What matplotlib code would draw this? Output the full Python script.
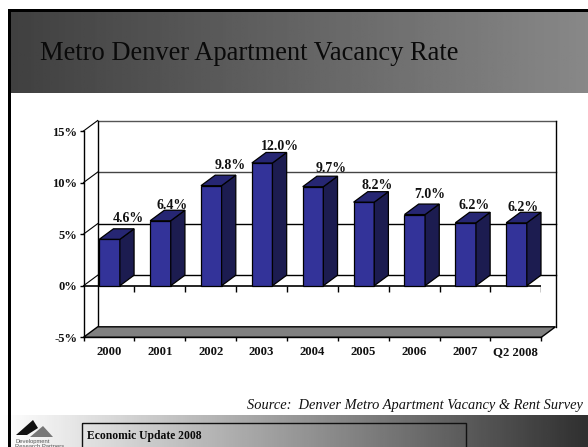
import numpy as np
import matplotlib
matplotlib.use("Agg")
import matplotlib.pyplot as plt
from matplotlib.patches import Polygon, Rectangle

plt.rcParams['font.family'] = ['Liberation Serif', 'DejaVu Serif']

categories = ['2000', '2001', '2002', '2003', '2004', '2005', '2006', '2007', 'Q2 2008']
bar_heights = [4.5, 6.3, 9.7, 11.9, 9.6, 8.1, 6.9, 6.1, 6.1]
bar_labels = ['4.6%', '6.4%', '9.8%', '12.0%', '9.7%', '8.2%', '7.0%', '6.2%', '6.2%']
y_ticks = [-5, 0, 5, 10, 15]
y_tick_labels = ['-5%', '0%', '5%', '10%', '15%']

W, H = 588, 447
# where each value label sits relative to the bar's top left corner, in pixels
label_dx = [29, 22, 29, 28, 28, 24, 25, 19, 17]
label_dy = [21, 15, 20, 16, 18, 17, 20, 17, 15]

fig = plt.figure(figsize=(W / 100, H / 100), dpi=100)

# slide background in pixel coordinates
bg = fig.add_axes([0, 0, 1, 1])
bg.set_xlim(0, W)
bg.set_ylim(H, 0)
bg.axis('off')
head = np.linspace(0x40, 0x88, 256).reshape(1, -1)
bg.imshow(head, extent=(10, W, 93, 11), cmap='gray', vmin=0, vmax=255, aspect='auto')
foot = np.interp(np.linspace(0, W, 256), [0, 30, W], [255, 245, 0x30]).reshape(1, -1)
bg.imshow(foot, extent=(0, W, H, 415), cmap='gray', vmin=0, vmax=255, aspect='auto')
bg.set_xlim(0, W)
bg.set_ylim(H, 0)
bg.add_patch(Rectangle((8, 9), W - 8, 2.6, color='black', lw=0))
bg.add_patch(Rectangle((8, 9), 2.8, H - 9, color='black', lw=0))
bg.add_patch(Rectangle((82, 423), 384, 30, fill=False, ec='#111111', lw=1))
bg.text(40, 54, 'Metro Denver Apartment Vacancy Rate', fontsize=19.1, color='#0a0a0a',
        ha='left', va='center')
bg.text(583, 406, 'Source:  Denver Metro Apartment Vacancy & Rent Survey', fontsize=10.4,
        style='italic', ha='right', va='center', color='#111111')
bg.text(87, 436, 'Economic Update 2008', fontsize=8.4, weight='bold', ha='left', va='center',
        color='#0a0a0a')
# logo
bg.add_patch(Polygon([[16, 435], [33, 420], [38, 428], [27, 435]], color='#111111', lw=0))
bg.add_patch(Polygon([[30, 437], [43, 426], [53, 437]], color='#777777', lw=0))
bg.text(15, 441, 'Development', fontsize=4.2, color='#555555', ha='left', va='center',
        family='Liberation Sans')
bg.text(15, 446, 'Research Partners', fontsize=4.2, color='#555555', ha='left', va='center',
        family='Liberation Sans')

# chart axes sit on the front plane of the fake 3d box
x0, x1 = 83.5, 541.3
y_top, y_bot = 131.0, 337.3
ax = fig.add_axes([x0 / W, 1 - y_bot / H, (x1 - x0) / W, (y_bot - y_top) / H])
ax.patch.set_alpha(0)
ax.set_xlim(0, len(categories))
ax.set_ylim(-5, 15)

DX = 14.2 / ((x1 - x0) / len(categories))
DY = 10.5 / ((y_bot - y_top) / 20)

# back wall grid and box edges
for v, c in zip(y_ticks[1:], ['black', 'black', '#444444', '#555555']):
    ax.plot([DX, len(categories) + DX], [v + DY, v + DY], color=c, lw=1, clip_on=False, zorder=1)
    ax.plot([0, DX], [v, v + DY], color='black', lw=0.8, clip_on=False, zorder=1)
ax.plot([DX, DX], [-5 + DY, 15 + DY], color='black', lw=1, clip_on=False, zorder=1)
ax.plot([len(categories) + DX] * 2, [-5 + DY, 15 + DY], color='black', lw=1, clip_on=False, zorder=1)
n = len(categories)
ax.add_patch(Polygon([[0, -5], [DX, -5 + DY], [n + DX, -5 + DY], [n, -5]], fc='#808080',
                     ec='black', lw=1, clip_on=False, zorder=1.5))
# floor at zero, white with the front edge on top
ax.plot([0, n], [0, 0], color='black', lw=1.2, zorder=2)
ax.vlines(range(1, n + 1), -0.6, 0, color='black', lw=1, zorder=2)

# bars
bar_w = 0.405
pad = 0.31
xs = np.arange(n) + pad
ax.bar(xs, bar_heights, width=bar_w, align='edge', color='#333399', edgecolor='black', lw=0.9,
       zorder=3)
for x, h in zip(xs, bar_heights):
    ax.add_patch(Polygon([[x + bar_w, 0], [x + bar_w + DX, DY], [x + bar_w + DX, h + DY], [x + bar_w, h]],
                         fc='#1c1c50', ec='black', lw=0.9, zorder=3, clip_on=False))
    ax.add_patch(Polygon([[x, h], [x + DX, h + DY], [x + bar_w + DX, h + DY], [x + bar_w, h]],
                         fc='#262673', ec='black', lw=0.9, zorder=3, clip_on=False))

for x, h, t, lx, ly in zip(xs, bar_heights, bar_labels, label_dx, label_dy):
    ax.annotate(t, (x, h), xytext=(lx, ly), textcoords='offset pixels', ha='center', va='center',
                fontsize=10, weight='bold', color='#111111', zorder=5, annotation_clip=False)

for s in ['top', 'right']:
    ax.spines[s].set_visible(False)
for s in ['left', 'bottom']:
    ax.spines[s].set_linewidth(1)
ax.set_yticks(y_ticks)
ax.set_yticklabels(y_tick_labels, fontsize=9, weight='bold', color='#111111')
ax.set_xticks(range(n + 1))
ax.set_xticklabels([])
ax.set_xticks(np.arange(n) + 0.5, minor=True)
ax.set_xticklabels(categories, minor=True, fontsize=9.2, weight='bold', color='#111111')
ax.tick_params(axis='x', which='major', length=3, width=1, direction='out')
ax.tick_params(axis='x', which='minor', length=0, pad=12.5)
ax.tick_params(axis='y', length=3, width=1, pad=1.5)
for lab in ax.get_xticklabels(minor=True):
    lab.set_verticalalignment('baseline')

fig.savefig('out.png', dpi=100)
